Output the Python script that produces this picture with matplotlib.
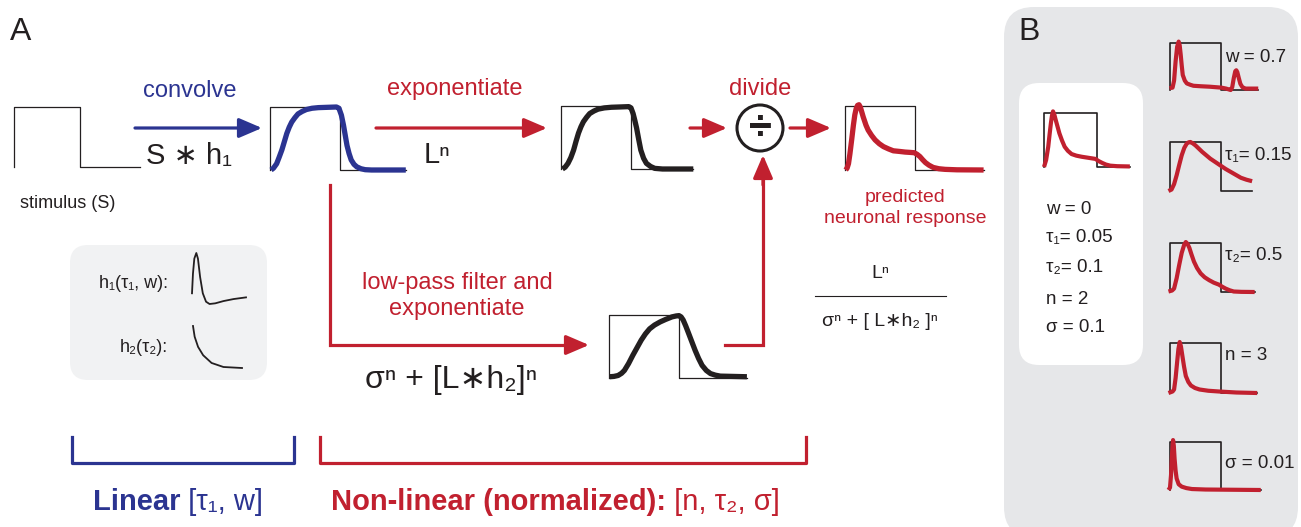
import numpy as np
import matplotlib.pyplot as plt
from matplotlib.patches import FancyBboxPatch, Circle

plt.rcParams['font.family'] = ['Liberation Sans', 'DejaVu Sans']

W, H = 1301, 527
BLUE = '#2B3491'
RED = '#C1202F'
INK = '#231F20'

# stimulus trace: time in stimulus durations, height in box units
stim_t = [0, 0, 1, 1, 3]
stim_y = [0, 1, 1, 0, 0]

# panel A traces
lin_t = [0.015, 0.05, 0.095, 0.13, 0.17, 0.205, 0.24, 0.275, 0.31, 0.355, 0.40, 0.46, 0.52, 0.60, 0.69, 0.82,
         0.95, 0.985, 1.02, 1.05, 1.075, 1.10, 1.13, 1.16, 1.20, 1.24, 1.30, 1.36, 1.45, 1.94]
lin_y = [0.0, 0.03, 0.10, 0.20, 0.32, 0.45, 0.58, 0.68, 0.76, 0.83, 0.89, 0.93, 0.96, 0.98, 0.99, 0.995,
         1.0, 0.98, 0.87, 0.71, 0.55, 0.39, 0.26, 0.16, 0.09, 0.05, 0.02, 0.005, 0.0, 0.0]
exp_t = [0.02, 0.06, 0.10, 0.14, 0.18, 0.215, 0.25, 0.285, 0.32, 0.365, 0.41, 0.47, 0.53, 0.62, 0.72, 0.85,
         0.97, 1.0, 1.03, 1.055, 1.08, 1.11, 1.14, 1.18, 1.22, 1.28, 1.34, 1.45, 1.89]
exp_y = [0.0, 0.03, 0.09, 0.18, 0.30, 0.44, 0.57, 0.67, 0.75, 0.82, 0.88, 0.92, 0.95, 0.97, 0.98, 0.985,
         0.99, 0.97, 0.88, 0.77, 0.65, 0.47, 0.30, 0.17, 0.09, 0.04, 0.01, 0.0, 0.0]
pool_t = [0.01, 0.07, 0.13, 0.18, 0.22, 0.28, 0.34, 0.40, 0.46, 0.52, 0.58, 0.65, 0.73, 0.81, 0.90, 0.96,
          1.0, 1.03, 1.06, 1.095, 1.13, 1.18, 1.23, 1.28, 1.33, 1.39, 1.45, 1.52, 1.59, 1.97]
pool_y = [0.02, 0.025, 0.04, 0.075, 0.12, 0.23, 0.36, 0.48, 0.60, 0.70, 0.78, 0.84, 0.89, 0.93, 0.97, 0.985,
          0.99, 0.97, 0.92, 0.83, 0.73, 0.585, 0.44, 0.31, 0.20, 0.12, 0.07, 0.045, 0.03, 0.02]
resp_t = [0.01, 0.03, 0.05, 0.07, 0.095, 0.12, 0.14, 0.16, 0.18, 0.20, 0.22, 0.26, 0.30, 0.33, 0.38, 0.43,
          0.49, 0.55, 0.62, 0.69, 0.78, 0.86, 0.93, 0.99, 1.03, 1.07, 1.11, 1.15, 1.20, 1.26, 1.34, 1.43,
          1.6, 1.98]
resp_y = [0, 0.03, 0.10, 0.25, 0.47, 0.70, 0.86, 0.96, 1.01, 1.02, 0.98, 0.83, 0.70, 0.625, 0.54, 0.47,
          0.41, 0.365, 0.33, 0.30, 0.29, 0.28, 0.275, 0.27, 0.245, 0.21, 0.16, 0.115, 0.075, 0.04, 0.02, 0.01,
          0.003, 0]

# kernels
h1_t = [0, 0.018, 0.043, 0.08, 0.11, 0.15, 0.2, 0.26, 0.325, 0.43, 0.585, 0.77, 1.0]
h1_y = [0.21, 0.597, 0.89, 1.0, 0.89, 0.53, 0.21, 0.045, 0, 0.013, 0.058, 0.097, 0.13]
h2_t = [0, 0.034, 0.103, 0.207, 0.379, 0.621, 1.0]
h2_y = [1.0, 0.744, 0.504, 0.304, 0.12, 0.024, 0.0]

# panel B
base_labels = ['w = 0', 'τ₁= 0.05', 'τ₂= 0.1', 'n = 2', 'σ = 0.1']
base_t = [0, 0.04, 0.08, 0.105, 0.13, 0.15, 0.17, 0.195, 0.22, 0.255, 0.29, 0.34, 0.39, 0.45, 0.52, 0.61,
          0.71, 0.84, 0.97, 1.03, 1.10, 1.17, 1.25, 1.38, 1.62]
base_y = [0, 0.13, 0.375, 0.60, 0.81, 0.95, 1.03, 0.97, 0.875, 0.75, 0.625, 0.49, 0.375, 0.30, 0.24, 0.21,
          0.19, 0.17, 0.15, 0.11, 0.075, 0.045, 0.025, 0.015, 0.01]
var_labels = ['w = 0.7', 'τ₁= 0.15', 'τ₂= 0.5', 'n = 3', 'σ = 0.01']
w07_t = [-0.01, 0.05, 0.08, 0.11, 0.14, 0.17, 0.19, 0.21, 0.23, 0.25, 0.29, 0.33, 0.40, 0.46, 0.6, 0.78,
         1.01, 1.10, 1.16, 1.19, 1.22, 1.25, 1.28, 1.30, 1.32, 1.35, 1.38, 1.42, 1.48, 1.73]
w07_y = [0.04, 0.05, 0.2, 0.61, 0.92, 1.03, 0.95, 0.75, 0.52, 0.32, 0.2, 0.14, 0.11, 0.09, 0.08, 0.07,
         0.05, 0.03, 0.01, 0.0, 0.06, 0.25, 0.40, 0.42, 0.38, 0.25, 0.13, 0.06, 0.03, 0.03]
tau1_t = [-0.03, 0.03, 0.08, 0.13, 0.18, 0.23, 0.28, 0.33, 0.37, 0.40, 0.45, 0.50, 0.56, 0.63, 0.71, 0.79,
          0.89, 0.99, 1.09, 1.19, 1.29, 1.39, 1.5, 1.61]
tau1_y = [0, 0.03, 0.14, 0.32, 0.53, 0.73, 0.88, 0.97, 0.995, 1.0, 0.97, 0.93, 0.87, 0.80, 0.73, 0.66,
          0.59, 0.52, 0.45, 0.39, 0.33, 0.27, 0.23, 0.20]
tau2_t = [-0.03, 0.04, 0.08, 0.13, 0.18, 0.23, 0.28, 0.31, 0.345, 0.38, 0.42, 0.47, 0.53, 0.60, 0.68, 0.77,
          0.86, 0.96, 1.02, 1.09, 1.17, 1.25, 1.4, 1.66]
tau2_y = [0.01, 0.03, 0.07, 0.28, 0.55, 0.80, 0.97, 1.02, 0.98, 0.90, 0.77, 0.62, 0.49, 0.38, 0.30, 0.24,
          0.19, 0.15, 0.11, 0.07, 0.035, 0.01, 0.003, 0]
n3_t = [-0.03, 0.05, 0.08, 0.11, 0.14, 0.165, 0.19, 0.215, 0.24, 0.275, 0.31, 0.36, 0.41, 0.49, 0.58, 0.75,
        0.96, 1.3, 1.71]
n3_y = [0, 0.03, 0.07, 0.3, 0.62, 0.88, 1.02, 0.93, 0.76, 0.53, 0.34, 0.22, 0.15, 0.10, 0.07, 0.045,
        0.03, 0.01, 0]
sig_t = [-0.03, 0.0, 0.02, 0.04, 0.06, 0.075, 0.09, 0.11, 0.13, 0.17, 0.23, 0.32, 0.43, 0.7, 1.78]
sig_y = [0, 0.05, 0.31, 0.75, 1.04, 0.92, 0.65, 0.40, 0.24, 0.12, 0.07, 0.04, 0.02, 0.01, 0]

fig = plt.figure(figsize=(W / 100, H / 100), dpi=100)
ax = fig.add_axes([0, 0, 1, 1])
ax.set_xlim(0, W)
ax.set_ylim(H, 0)
ax.axis('off')


def trace(x0, x1, ytop, ybot, t, y, color, lw=2.8, stim_lw=0.9):
    # little plot: stimulus box from x0 to x1, curve runs to its own end
    t_end = max(t)
    xe = x0 + (x1 - x0) * t_end
    a = fig.add_axes([x0 / W, 1 - ybot / H, (xe - x0) / W, (ybot - ytop) / H])
    a.set_xlim(0, t_end)
    a.set_ylim(0, 1)
    a.axis('off')
    a.plot(np.minimum(stim_t, t_end), stim_y, color=INK, lw=stim_lw, clip_on=False)
    if color is not None:
        a.plot(t, y, color=color, lw=lw, clip_on=False,
               solid_joinstyle='round', solid_capstyle='butt')
    return a


def arrow(x0, y0, x1, y1, color):
    ax.annotate('', xy=(x1, y1), xytext=(x0, y0),
                arrowprops=dict(arrowstyle='-|>,head_length=0.7,head_width=0.3',
                                mutation_scale=20, lw=2.3, color=color,
                                shrinkA=0, shrinkB=0))


# ---- panel A ----
ax.text(10, 40, 'A', fontsize=23, color=INK, va='baseline')

trace(14, 80, 107, 167, [0, 1.91], [0, 0], None)
ax.text(20, 204, 'stimulus (S)', fontsize=13, color=INK, va='center')

arrow(135, 128, 262, 128, BLUE)
ax.text(190, 91, 'convolve', fontsize=17, color=BLUE, ha='center', va='center')
ax.text(146, 156, 'S ∗ h₁', fontsize=21, color=INK, va='center')

trace(270, 340, 107, 170, lin_t, lin_y, BLUE, lw=3.8)

arrow(376, 128, 547, 128, RED)
ax.text(455, 89, 'exponentiate', fontsize=17, color=RED, ha='center', va='center')
ax.text(424, 155, 'Lⁿ', fontsize=21, color=INK, va='center')

trace(561, 631, 106, 169, exp_t, exp_y, INK, lw=3.8)

arrow(690, 128, 727, 128, RED)
ax.add_patch(Circle((760, 128), 23, fill=False, lw=2.2, ec=INK))
ax.text(760, 129, '÷', fontsize=30, color=INK, ha='center', va='center', weight='bold')
ax.text(760, 89, 'divide', fontsize=17, color=RED, ha='center', va='center')
arrow(790, 128, 831, 128, RED)

trace(845, 915, 106, 170, resp_t, resp_y, RED, lw=3.8)
ax.text(905, 208, 'predicted\nneuronal response', fontsize=14, color=RED,
        ha='center', va='center', linespacing=1.25)

# normalisation branch
ax.plot([330, 330, 575], [185, 345, 345], color=RED, lw=2.3, solid_joinstyle='miter')
arrow(570, 345, 589, 345, RED)
ax.text(457, 296, 'low-pass filter and\nexponentiate', fontsize=17, color=RED,
        ha='center', va='center', linespacing=1.25)
ax.text(365, 380, 'σⁿ + [L∗h₂]ⁿ', fontsize=23, color=INK, va='center')
trace(609, 679, 315, 378, pool_t, pool_y, INK, lw=3.8)
ax.plot([725, 763, 763], [345, 345, 180], color=RED, lw=2.3, solid_joinstyle='miter')
arrow(763, 185, 763, 155, RED)

# formula
ax.text(880, 273, 'Lⁿ', fontsize=14, color=INK, ha='center', va='center')
ax.plot([815, 946], [296, 296], color=INK, lw=0.8)
ax.text(880, 321, 'σⁿ + [ L∗h₂ ]ⁿ', fontsize=14, color=INK, ha='center', va='center')

# kernels box
ax.add_patch(FancyBboxPatch((70, 245), 197, 135, boxstyle='round,pad=0,rounding_size=18',
                            fc='#F1F2F3', ec='none'))
ax.text(168, 283, 'h₁(τ₁, w):', fontsize=13, color=INK, ha='right', va='center')
ax.text(168, 348, 'h₂(τ₂):', fontsize=13, color=INK, ha='right', va='center')
for (x0, x1, yt, yb, t, y) in [(192, 246, 253, 304, h1_t, h1_y),
                               (193, 242, 326, 368, h2_t, h2_y)]:
    k = fig.add_axes([x0 / W, 1 - yb / H, (x1 - x0) / W, (yb - yt) / H])
    k.set_xlim(0, 1)
    k.set_ylim(0, 1)
    k.axis('off')
    k.plot(t, y, color=INK, lw=1.3, clip_on=False, solid_joinstyle='round')

# brackets and labels
ax.plot([72, 72, 294, 294], [437, 463, 463, 437], color=BLUE, lw=2.3)
ax.plot([320, 320, 806, 806], [437, 463, 463, 437], color=RED, lw=2.3)
t1 = ax.text(93, 510, 'Linear', fontsize=21, weight='bold', color=BLUE, va='baseline')
ax.annotate(' [τ₁, w]', xy=(1, 0), xycoords=t1, fontsize=21, color=BLUE,
            ha='left', va='bottom')
t2 = ax.text(331, 510, 'Non-linear (normalized):', fontsize=21, weight='bold',
             color=RED, va='baseline')
ax.annotate(' [n, τ₂, σ]', xy=(1, 0), xycoords=t2, fontsize=21, color=RED,
            ha='left', va='bottom')

# ---- panel B ----
ax.add_patch(FancyBboxPatch((1004, 7), 294, 530, boxstyle='round,pad=0,rounding_size=30',
                            fc='#E6E7E9', ec='none'))
ax.text(1018, 40, 'B', fontsize=23, color=INK, va='baseline')
ax.add_patch(FancyBboxPatch((1019, 83), 124, 282, boxstyle='round,pad=0,rounding_size=20',
                            fc='white', ec='none'))
trace(1044, 1097, 113, 167, base_t, base_y, RED, lw=3, stim_lw=1.2)
for lab, yy in zip(base_labels, [210, 238, 268, 299, 328]):
    ax.text(1046, yy, lab, fontsize=13.5, color=INK, va='center')

rows = [(43, 90), (142, 191), (243, 292), (343, 393), (442, 490)]
curves = [(w07_t, w07_y), (tau1_t, tau1_y), (tau2_t, tau2_y), (n3_t, n3_y), (sig_t, sig_y)]
label_y = [57, 155, 255, 355, 463]
for (yt, yb), (t, y), lab, ly in zip(rows, curves, var_labels, label_y):
    trace(1170, 1221, yt, yb, t, y, RED, lw=3, stim_lw=1.2)
    ax.text(1225, ly, lab, fontsize=13.5, color=INK, va='center')

fig.savefig('out.png', dpi=100)
